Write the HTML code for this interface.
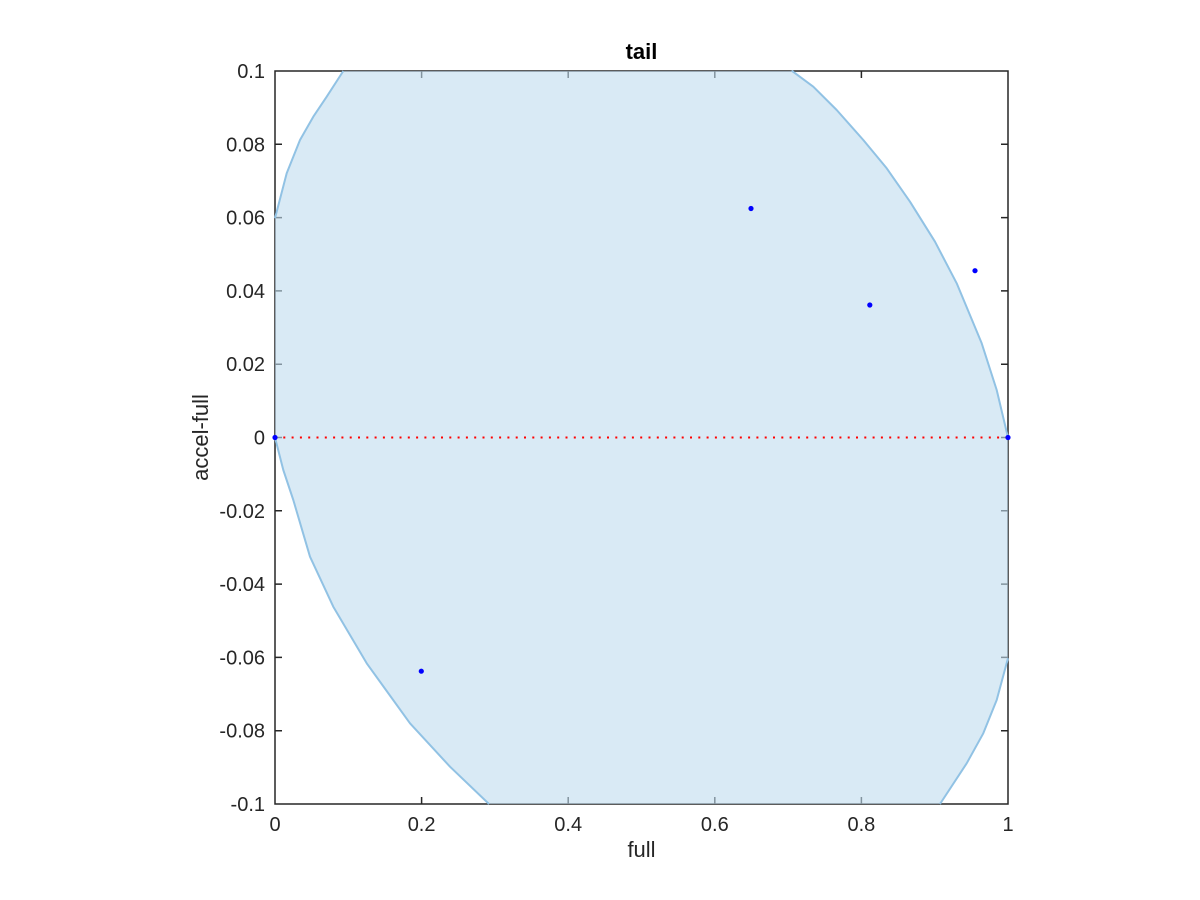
<!DOCTYPE html>
<html>
<head>
<meta charset="utf-8">
<style>
html,body{margin:0;padding:0;background:#fff;}
svg{display:block;}
text{font-family:"Liberation Sans",Arial,sans-serif;fill:#262626;}
</style>
</head>
<body>
<svg width="1200" height="900" viewBox="0 0 1200 900" xmlns="http://www.w3.org/2000/svg">
<rect width="1200" height="900" fill="#fff"/>

<!-- axes box -->
<g stroke="#262626" stroke-width="1.5" fill="none">
<rect x="275" y="71" width="733" height="733"/>
<!-- y ticks left & right -->
<path d="M275 144.3h7M275 217.6h7M275 290.9h7M275 364.2h7M275 437.5h7M275 510.8h7M275 584.1h7M275 657.4h7M275 730.7h7
M1008 144.3h-7M1008 217.6h-7M1008 290.9h-7M1008 364.2h-7M1008 437.5h-7M1008 510.8h-7M1008 584.1h-7M1008 657.4h-7M1008 730.7h-7
M421.6 804v-7M568.2 804v-7M714.8 804v-7M861.4 804v-7
M421.6 71v7M568.2 71v7M714.8 71v7M861.4 71v7"/>
</g>

<!-- filled region -->
<path fill="rgb(192,220,238)" fill-opacity="0.6" stroke="none" d="
M343.3,71 L790,71
L791.7,70.7 L813.3,86.7 L836.7,110 L863.3,140 L886.7,168.3 L910,201.7 L935,241.7 L956.7,283.3 L981.7,343.3 L996.7,390 L1008,437.5
L1008,658.3
L996.7,700 L983.3,733.3 L966.7,763.3 L940,804
L489,804
L450,766.7 L410,723.3 L366.7,663.3 L333.3,606.7 L310,556.7 L293.3,500 L283.3,470 L275,437.5
L275,218.3
L286.7,173.3 L300,140 L313.3,116.7 L326.7,96.7 L343.3,71 Z"/>

<!-- curve edges -->
<g stroke="rgb(145,194,228)" stroke-width="2" fill="none" stroke-linejoin="round">
<path d="M791.7,70.7 L813.3,86.7 L836.7,110 L863.3,140 L886.7,168.3 L910,201.7 L935,241.7 L956.7,283.3 L981.7,343.3 L996.7,390 L1008,437.5"/>
<path d="M1008,658.3 L996.7,700 L983.3,733.3 L966.7,763.3 L940,804"/>
<path d="M489,804 L450,766.7 L410,723.3 L366.7,663.3 L333.3,606.7 L310,556.7 L293.3,500 L283.3,470 L275,437.5"/>
<path d="M275,218.3 L286.7,173.3 L300,140 L313.3,116.7 L326.7,96.7 L343.3,71"/>
</g>

<!-- red dotted zero line -->
<line x1="275" y1="437.5" x2="1008" y2="437.5" stroke="#ff0000" stroke-width="2" stroke-dasharray="2 6.3"/>

<!-- data points -->
<g fill="#0000ff">
<circle cx="275" cy="437.5" r="2.6"/>
<circle cx="421.3" cy="671.2" r="2.6"/>
<circle cx="751" cy="208.5" r="2.6"/>
<circle cx="869.8" cy="305" r="2.6"/>
<circle cx="975" cy="270.7" r="2.6"/>
<circle cx="1008" cy="437.5" r="2.6"/>
</g>

<!-- y tick labels -->
<g font-size="20" text-anchor="end">
<text x="265" y="78">0.1</text>
<text x="265" y="151.3">0.08</text>
<text x="265" y="224.6">0.06</text>
<text x="265" y="297.9">0.04</text>
<text x="265" y="371.2">0.02</text>
<text x="265" y="444.5">0</text>
<text x="265" y="517.8">-0.02</text>
<text x="265" y="591.1">-0.04</text>
<text x="265" y="664.4">-0.06</text>
<text x="265" y="737.7">-0.08</text>
<text x="265" y="811">-0.1</text>
</g>

<!-- x tick labels -->
<g font-size="20" text-anchor="middle">
<text x="275" y="831">0</text>
<text x="421.6" y="831">0.2</text>
<text x="568.2" y="831">0.4</text>
<text x="714.8" y="831">0.6</text>
<text x="861.4" y="831">0.8</text>
<text x="1008" y="831">1</text>
</g>

<!-- labels -->
<text x="641.5" y="857" font-size="22" text-anchor="middle">full</text>
<text x="0" y="0" font-size="22" text-anchor="middle" transform="translate(208,437.5) rotate(-90)">accel-full</text>
<text x="641.5" y="59" font-size="22" font-weight="bold" text-anchor="middle" style="fill:#000">tail</text>
</svg>
</body>
</html>
